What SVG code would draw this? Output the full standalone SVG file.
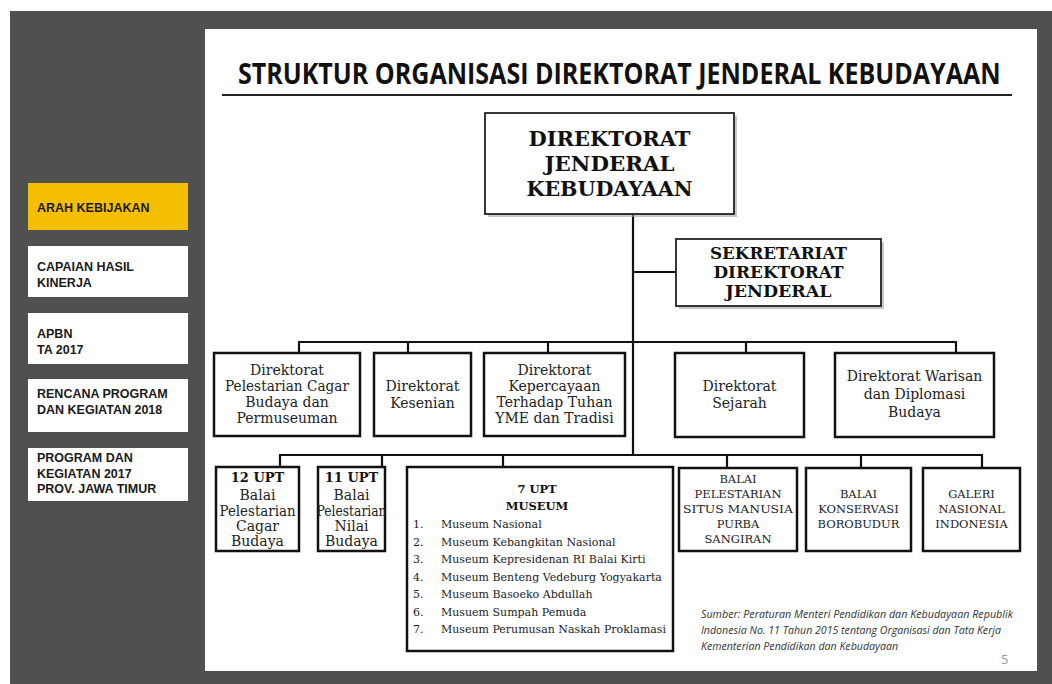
<svg xmlns="http://www.w3.org/2000/svg" width="1052" height="684" viewBox="0 0 1052 684">
<defs>
<style>
.box{fill:#fff;stroke:#111;stroke-width:2.5}
.shadow{fill:#9a9a9a;opacity:0.55}
.side{fill:#fff}
.sideT{font-family:"Liberation Sans",Arial,sans-serif;font-weight:bold;font-size:12.5px;fill:#1a1a1a}
.hb{font-family:"DejaVu Serif","Liberation Serif",serif;font-weight:bold;fill:#111;text-anchor:middle}
.t{font-family:"DejaVu Serif","Liberation Serif",serif;font-size:14px;fill:#222;text-anchor:middle}
.cap{font-family:"DejaVu Serif","Liberation Serif",serif;font-size:11.5px;fill:#222;text-anchor:middle}
.li{font-family:"DejaVu Serif","Liberation Serif",serif;font-size:11px;fill:#222}
.ln{stroke:#111;stroke-width:2.2;fill:none}
.src{font-family:"Open Sans","Liberation Sans",sans-serif;font-style:italic;font-size:10.5px;fill:#333}
</style>
</defs>
<rect x="0" y="0" width="1052" height="684" fill="#fff"/>
<rect x="10" y="11" width="1042" height="673" fill="#505050"/>
<rect x="205" y="29" width="832" height="642" fill="#fff"/>

<g id="sidebar">
<g id="side-arah"><rect x="28" y="183" width="160" height="47" fill="#F5BF00"/><text class="sideT" x="37" y="212">ARAH KEBIJAKAN</text></g>
<g id="side-capaian"><rect class="side" x="28" y="246" width="160" height="51"/><text class="sideT" x="37" y="271">CAPAIAN HASIL</text><text class="sideT" x="37" y="287">KINERJA</text></g>
<g id="side-apbn"><rect class="side" x="28" y="313" width="160" height="51"/><text class="sideT" x="37" y="338">APBN</text><text class="sideT" x="37" y="354">TA 2017</text></g>
<g id="side-rencana"><rect class="side" x="28" y="379" width="160" height="53"/><text class="sideT" x="37" y="398">RENCANA PROGRAM</text><text class="sideT" x="37" y="414">DAN KEGIATAN  2018</text></g>
<g id="side-program"><rect class="side" x="28" y="448" width="160" height="53"/><text class="sideT" x="37" y="462">PROGRAM DAN</text><text class="sideT" x="37" y="478">KEGIATAN 2017</text><text class="sideT" x="37" y="493">PROV. JAWA TIMUR</text></g>
</g>

<g id="title">
<text transform="translate(238 84) scale(0.864 1)" x="0" y="0" font-family="'Open Sans','Liberation Sans',sans-serif" font-weight="bold" font-size="29" fill="#111">STRUKTUR ORGANISASI DIREKTORAT JENDERAL KEBUDAYAAN</text>
<line x1="222" y1="95" x2="1012" y2="95" stroke="#222" stroke-width="2"/>
</g>

<g id="connectors">
<line class="ln" x1="633" y1="214" x2="633" y2="456"/>
<line class="ln" x1="633" y1="272" x2="676" y2="272"/>
<line class="ln" x1="298" y1="342" x2="957" y2="342"/>
<line class="ln" x1="299" y1="342" x2="299" y2="353"/>
<line class="ln" x1="408" y1="342" x2="408" y2="353"/>
<line class="ln" x1="548" y1="342" x2="548" y2="353"/>
<line class="ln" x1="746" y1="342" x2="746" y2="353"/>
<line class="ln" x1="956" y1="342" x2="956" y2="353"/>
<line class="ln" x1="279" y1="455" x2="983" y2="455"/>
<line class="ln" x1="280" y1="455" x2="280" y2="467"/>
<line class="ln" x1="382" y1="455" x2="382" y2="467"/>
<line class="ln" x1="503" y1="455" x2="503" y2="467"/>
<line class="ln" x1="727" y1="455" x2="727" y2="467"/>
<line class="ln" x1="861" y1="455" x2="861" y2="467"/>
<line class="ln" x1="982" y1="455" x2="982" y2="467"/>
</g>

<g id="dirjen">
<rect class="shadow" x="488" y="116" width="249" height="101"/>
<rect x="485" y="113" width="249" height="101" fill="#fff" stroke="#222" stroke-width="1.8"/>
<text class="hb" x="609.5" y="146" font-size="21" textLength="162" lengthAdjust="spacingAndGlyphs">DIREKTORAT</text>
<text class="hb" x="609.5" y="171" font-size="21" textLength="130" lengthAdjust="spacingAndGlyphs">JENDERAL</text>
<text class="hb" x="609.5" y="196" font-size="21" textLength="166" lengthAdjust="spacingAndGlyphs">KEBUDAYAAN</text>
</g>

<g id="sekretariat">
<rect class="shadow" x="679" y="242" width="205" height="67"/>
<rect x="676" y="239" width="205" height="67" fill="#fff" stroke="#222" stroke-width="1.8"/>
<text class="hb" x="778.5" y="259" font-size="16.5" textLength="137" lengthAdjust="spacingAndGlyphs">SEKRETARIAT</text>
<text class="hb" x="778.5" y="278" font-size="16.5" textLength="130" lengthAdjust="spacingAndGlyphs">DIREKTORAT</text>
<text class="hb" x="778.5" y="297" font-size="16.5" textLength="106" lengthAdjust="spacingAndGlyphs">JENDERAL</text>
</g>

<g id="dir-cagar">
<rect class="box" x="214" y="353" width="146" height="83"/>
<text class="t" x="287" y="375">Direktorat</text>
<text class="t" x="287" y="391" textLength="124" lengthAdjust="spacingAndGlyphs">Pelestarian Cagar</text>
<text class="t" x="287" y="407">Budaya dan</text>
<text class="t" x="287" y="423">Permuseuman</text>
</g>
<g id="dir-kesenian">
<rect class="box" x="374" y="353" width="97" height="83"/>
<text class="t" x="422.5" y="391">Direktorat</text>
<text class="t" x="422.5" y="408">Kesenian</text>
</g>
<g id="dir-kepercayaan">
<rect class="box" x="484" y="353" width="141" height="83"/>
<text class="t" x="554.5" y="375">Direktorat</text>
<text class="t" x="554.5" y="391">Kepercayaan</text>
<text class="t" x="554.5" y="407">Terhadap Tuhan</text>
<text class="t" x="554.5" y="423">YME dan Tradisi</text>
</g>
<g id="dir-sejarah">
<rect class="box" x="675" y="353" width="129" height="84"/>
<text class="t" x="739.5" y="391">Direktorat</text>
<text class="t" x="739.5" y="408">Sejarah</text>
</g>
<g id="dir-warisan">
<rect class="box" x="835" y="353" width="159" height="84"/>
<text class="t" x="914.5" y="381">Direktorat Warisan</text>
<text class="t" x="914.5" y="399">dan Diplomasi</text>
<text class="t" x="914.5" y="417">Budaya</text>
</g>

<g id="upt12">
<rect class="box" x="216" y="467" width="83" height="84"/>
<text class="hb" x="257.5" y="482" font-size="13">12 UPT</text>
<text class="t" x="257.5" y="500">Balai</text>
<text class="t" x="257.5" y="516" textLength="76" lengthAdjust="spacingAndGlyphs">Pelestarian</text>
<text class="t" x="257.5" y="531">Cagar</text>
<text class="t" x="257.5" y="546">Budaya</text>
</g>
<g id="upt11">
<rect class="box" x="318" y="467" width="67" height="84"/>
<text class="hb" x="351.5" y="482" font-size="13">11 UPT</text>
<text class="t" x="351.5" y="500">Balai</text>
<text class="t" x="351.5" y="516" textLength="70" lengthAdjust="spacingAndGlyphs">Pelestarian</text>
<text class="t" x="351.5" y="531">Nilai</text>
<text class="t" x="351.5" y="546">Budaya</text>
</g>
<g id="museum">
<rect class="box" x="407" y="467" width="266" height="184"/>
<text class="hb" x="537" y="493" font-size="11.5">7 UPT</text>
<text class="hb" x="537" y="510" font-size="11.5">MUSEUM</text>
<g class="li">
<text x="413" y="528">1.</text><text x="441" y="528">Museum Nasional</text>
<text x="413" y="545.5">2.</text><text x="441" y="545.5">Museum Kebangkitan Nasional</text>
<text x="413" y="563">3.</text><text x="441" y="563">Museum Kepresidenan RI Balai Kirti</text>
<text x="413" y="580.5">4.</text><text x="441" y="580.5">Museum Benteng Vedeburg Yogyakarta</text>
<text x="413" y="598">5.</text><text x="441" y="598">Museum Basoeko Abdullah</text>
<text x="413" y="615.5">6.</text><text x="441" y="615.5">Musuem Sumpah Pemuda</text>
<text x="413" y="633">7.</text><text x="441" y="633" textLength="225" lengthAdjust="spacingAndGlyphs">Museum Perumusan Naskah Proklamasi</text>
</g>
</g>
<g id="balai-sangiran">
<rect class="box" x="679" y="468" width="118" height="83"/>
<text class="cap" x="738" y="483">BALAI</text>
<text class="cap" x="738" y="498">PELESTARIAN</text>
<text class="cap" x="738" y="513" textLength="110" lengthAdjust="spacingAndGlyphs">SITUS MANUSIA</text>
<text class="cap" x="738" y="528">PURBA</text>
<text class="cap" x="738" y="543">SANGIRAN</text>
</g>
<g id="balai-borobudur">
<rect class="box" x="806" y="468" width="105" height="83"/>
<text class="cap" x="858.5" y="498">BALAI</text>
<text class="cap" x="858.5" y="513">KONSERVASI</text>
<text class="cap" x="858.5" y="528">BOROBUDUR</text>
</g>
<g id="galeri">
<rect class="box" x="923" y="468" width="97" height="83"/>
<text class="cap" x="971.5" y="498">GALERI</text>
<text class="cap" x="971.5" y="513">NASIONAL</text>
<text class="cap" x="971.5" y="528">INDONESIA</text>
</g>

<g id="source">
<text class="src" x="701" y="618" textLength="312" lengthAdjust="spacingAndGlyphs">Sumber: Peraturan Menteri Pendidikan dan Kebudayaan Republik</text>
<text class="src" x="701" y="634" textLength="300" lengthAdjust="spacingAndGlyphs">Indonesia No. 11 Tahun 2015 tentang Organisasi dan Tata Kerja</text>
<text class="src" x="701" y="650" textLength="197" lengthAdjust="spacingAndGlyphs">Kementerian Pendidikan dan Kebudayaan</text>
<text x="1001" y="664" font-family="'Open Sans','Liberation Sans',sans-serif" font-size="13" fill="#999">5</text>
</g>
</svg>
